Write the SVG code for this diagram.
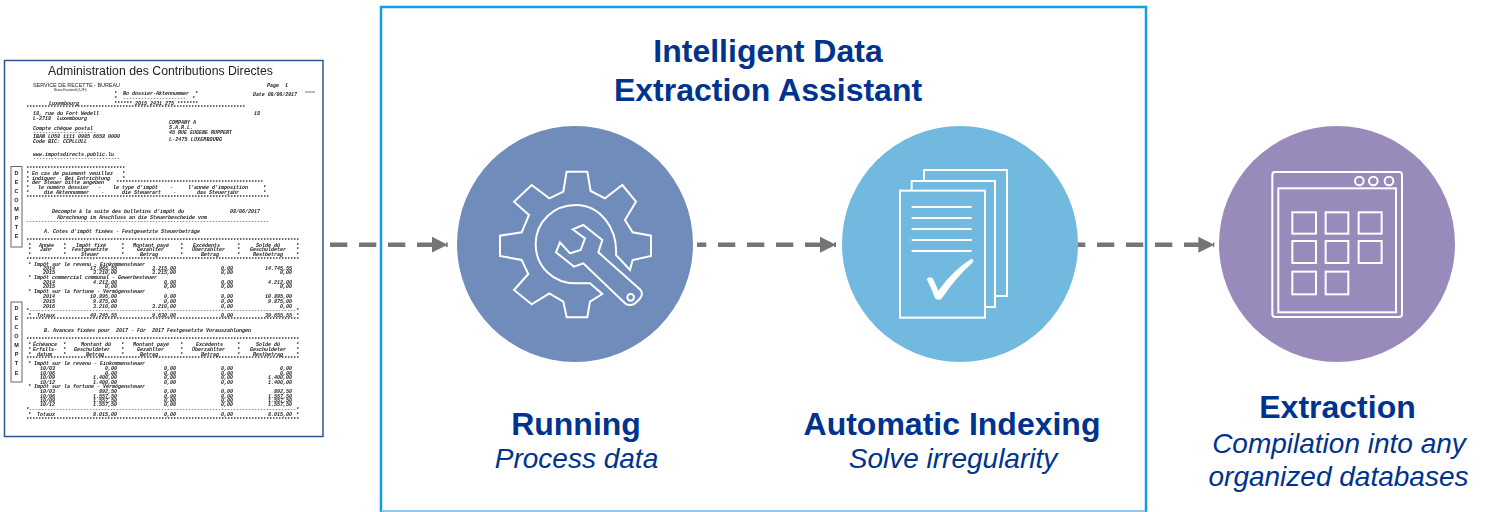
<svg xmlns="http://www.w3.org/2000/svg" width="1486" height="512" viewBox="0 0 1486 512">
<style>
.h{font-family:"Liberation Sans",Arial,sans-serif;font-weight:700;fill:#00338d;text-anchor:middle;font-size:32px}
.i{font-family:"Liberation Sans",Arial,sans-serif;font-style:italic;fill:#00338d;text-anchor:middle;font-size:28px}
.ic{fill:none;stroke:#fff;stroke-width:6;stroke-linejoin:miter}
.d text{font-family:"Liberation Mono",monospace;font-size:5px;font-weight:700;font-style:italic;fill:#222;white-space:pre}
.d text.s{font-family:"Liberation Sans",sans-serif;font-style:normal;font-weight:400}
.d .e{text-anchor:end}
.d text.l{font-family:"Liberation Sans",sans-serif;font-style:normal;font-weight:700;font-size:5.5px;text-anchor:middle}
.dash{fill:none;stroke:#757575;stroke-width:4.5;stroke-dasharray:17.3 11.7}
</style>
<defs>
<marker id="a" markerUnits="userSpaceOnUse" markerWidth="18" markerHeight="18" refX="16" refY="9" orient="auto"><path d="M0 1L16 9L0 17Z" fill="#757575"/></marker>
<filter id="b" x="-5%" y="-5%" width="110%" height="110%"><feGaussianBlur stdDeviation="0.3"/></filter>
</defs>
<rect width="1486" height="512" fill="#fff"/>
<g id="document">
<rect x="4.5" y="60.5" width="318.5" height="376" fill="#fff" stroke="#2f5597" stroke-width="1.5"/>
<g class="d" filter="url(#b)">
<text class="s" x="48" y="75" style="font-size:12px;fill:#222" textLength="225" lengthAdjust="spacingAndGlyphs">Administration des Contributions Directes</text>
<text class="s" x="33" y="87" style="font-size:6px" textLength="87" lengthAdjust="spacingAndGlyphs">SERVICE DE RECETTE - BUREAU</text>
<text x="267" y="87">Page  1</text>
<text class="s" x="54" y="91" style="font-size:3px">Bases-Foustendt (1-2Ft)</text>
<text x="114" y="95">*  No dossier-Aktennummer  *</text>
<text x="253" y="96" textLength="44">Date 08/06/2017</text>
<text x="114" y="100">*  ---------------------  *</text>
<text x="49" y="104.5">Luxembourg</text>
<text x="114" y="104.5">****** 2015 2431 275 *******</text>
<text x="26" y="109">*************************************************************************</text>
<text x="33" y="115">18, rue du Fort Wedell</text><text x="254" y="115">18</text>
<text x="33" y="120">L-2718  Luxembourg</text>
<text x="169" y="124">COMPANY A</text><text x="169" y="129">S.A.R.L.</text>
<text x="169" y="134" textLength="63">45 RUE EUGENE RUPPERT</text>
<text x="169" y="141" textLength="53">L-2475 LUXEMBOURG</text>
<text x="33" y="130">Compte chèque postal</text>
<text x="33" y="134">---------------------</text>
<text x="33" y="138">IBAN LU58 1111 0985 6658 0000</text>
<text x="33" y="143">Code BIC: CCPLLULL</text>
<text x="33" y="156">www.impotsdirects.public.lu</text>
<text x="33" y="160">-----------------------------</text>
<text x="26" y="170">*********************************</text>
<text x="26" y="175">* En cas de paiement veuillez   *</text>
<text x="26" y="180">* indiquer - Bei Entrichtung    *</text>
<text x="26" y="184">* der Steuer bitte angeben    *************************************************</text>
<text x="26" y="189">*   le numéro dossier   -    le type d'impôt    -     l'année d'imposition     *</text>
<text x="26" y="194">*     die Aktennummer    -      die Steuerart    -       das Steuerjahr        *</text>
<text x="26" y="199">*********************************************************************************</text>
<text x="52" y="213">Décompte à la suite des bulletins d'impôt du</text><text x="230" y="213">08/06/2017</text>
<text x="57" y="219">Abrechnung im Anschluss an die Steuerbescheide vom</text>
<text x="26" y="223">---------------------------------------------------------------------------------</text>
<text x="44" y="233">A. Cotes d'impôt fixées - Festgesetzte Steuerbeträge</text>
<text x="26" y="242">*******************************************************************************************</text>
<text y="247"><tspan x="28">*</tspan><tspan x="39">Année</tspan><tspan x="63">*</tspan><tspan x="76">Impôt fixé</tspan><tspan x="121">*</tspan><tspan x="133">Montant payé</tspan><tspan x="180">*</tspan><tspan x="193">Excédents</tspan><tspan x="237">*</tspan><tspan x="256">Solde dû</tspan><tspan x="296">*</tspan></text>
<text y="251"><tspan x="28">*</tspan><tspan x="40">Jahr</tspan><tspan x="63">*</tspan><tspan x="72">Festgesetzte</tspan><tspan x="121">*</tspan><tspan x="137">Gezahlter</tspan><tspan x="180">*</tspan><tspan x="192">Überzahlter</tspan><tspan x="237">*</tspan><tspan x="250">Geschuldeter</tspan><tspan x="296">*</tspan></text>
<text y="256"><tspan x="28">*</tspan><tspan x="63">*</tspan><tspan x="81">Steuer</tspan><tspan x="121">*</tspan><tspan x="140">Betrag</tspan><tspan x="180">*</tspan><tspan x="201">Betrag</tspan><tspan x="237">*</tspan><tspan x="253">Restbetrag</tspan><tspan x="296">*</tspan></text>
<text x="26" y="261">*******************************************************************************************</text>
<text x="28" y="266">* Impôt sur le revenu - Einkommensteuer</text>
<text y="270"><tspan x="43">2014</tspan><tspan class="e" x="117">17.965,55</tspan><tspan class="e" x="176">3.215,00</tspan><tspan class="e" x="233">0,00</tspan><tspan class="e" x="292">14.745,55</tspan></text>
<text y="274"><tspan x="43">2015</tspan><tspan class="e" x="117">3.210,00</tspan><tspan class="e" x="176">3.215,00</tspan><tspan class="e" x="233">0,00</tspan><tspan class="e" x="292">0,00</tspan></text>
<text x="28" y="279">* Impôt commercial communal - Gewerbesteuer</text>
<text y="284"><tspan x="43">2014</tspan><tspan class="e" x="117">4.212,00</tspan><tspan class="e" x="176">0,00</tspan><tspan class="e" x="233">0,00</tspan><tspan class="e" x="292">4.212,00</tspan></text>
<text y="288"><tspan x="43">2015</tspan><tspan class="e" x="117">0,00</tspan><tspan class="e" x="176">0,00</tspan><tspan class="e" x="233">0,00</tspan><tspan class="e" x="292">0,00</tspan></text>
<text x="28" y="293">* Impôt sur la fortune - Vermögensteuer</text>
<text y="298"><tspan x="43">2014</tspan><tspan class="e" x="117">10.895,00</tspan><tspan class="e" x="176">0,00</tspan><tspan class="e" x="233">0,00</tspan><tspan class="e" x="292">10.895,00</tspan></text>
<text y="303"><tspan x="43">2015</tspan><tspan class="e" x="117">9.875,00</tspan><tspan class="e" x="176">0,00</tspan><tspan class="e" x="233">0,00</tspan><tspan class="e" x="292">9.875,00</tspan></text>
<text y="308"><tspan x="43">2016</tspan><tspan class="e" x="117">3.210,00</tspan><tspan class="e" x="176">3.210,00</tspan><tspan class="e" x="233">0,00</tspan><tspan class="e" x="292">0,00</tspan></text>
<text x="26" y="312">*-----------------------------------------------------------------------------------------*</text>
<text y="317"><tspan x="28">*</tspan><tspan x="37">Totaux</tspan><tspan class="e" x="117">49.245,55</tspan><tspan class="e" x="176">9.630,00</tspan><tspan class="e" x="233">0,00</tspan><tspan class="e" x="292">39.655,55</tspan><tspan x="296">*</tspan></text>
<text x="26" y="321">*******************************************************************************************</text>
<text x="44" y="332">B. Avances fixées pour  2017 - Für  2017 Festgesetzte Vorauszahlungen</text>
<text x="26" y="341">*******************************************************************************************</text>
<text y="346"><tspan x="28">*</tspan><tspan x="33">Échéance</tspan><tspan x="63">*</tspan><tspan x="81">Montant dû</tspan><tspan x="121">*</tspan><tspan x="133">Montant payé</tspan><tspan x="180">*</tspan><tspan x="196">Excédents</tspan><tspan x="237">*</tspan><tspan x="256">Solde dû</tspan><tspan x="296">*</tspan></text>
<text y="351"><tspan x="28">*</tspan><tspan x="33">Erfalls-</tspan><tspan x="63">*</tspan><tspan x="74">Geschuldeter</tspan><tspan x="121">*</tspan><tspan x="137">Gezahlter</tspan><tspan x="180">*</tspan><tspan x="192">Überzahlter</tspan><tspan x="237">*</tspan><tspan x="250">Geschuldeter</tspan><tspan x="296">*</tspan></text>
<text y="356"><tspan x="28">*</tspan><tspan x="37">datum</tspan><tspan x="63">*</tspan><tspan x="86">Betrag</tspan><tspan x="121">*</tspan><tspan x="140">Betrag</tspan><tspan x="180">*</tspan><tspan x="201">Betrag</tspan><tspan x="237">*</tspan><tspan x="253">Restbetrag</tspan><tspan x="296">*</tspan></text>
<text x="26" y="360">*******************************************************************************************</text>
<text x="28" y="365">* Impôt sur le revenu - Einkommensteuer</text>
<text y="370"><tspan x="40">10/03</tspan><tspan class="e" x="117">0,00</tspan><tspan class="e" x="176">0,00</tspan><tspan class="e" x="233">0,00</tspan><tspan class="e" x="292">0,00</tspan></text>
<text y="375"><tspan x="40">10/06</tspan><tspan class="e" x="117">0,00</tspan><tspan class="e" x="176">0,00</tspan><tspan class="e" x="233">0,00</tspan><tspan class="e" x="292">0,00</tspan></text>
<text y="379"><tspan x="40">10/09</tspan><tspan class="e" x="117">1.400,00</tspan><tspan class="e" x="176">0,00</tspan><tspan class="e" x="233">0,00</tspan><tspan class="e" x="292">1.400,00</tspan></text>
<text y="384"><tspan x="40">10/12</tspan><tspan class="e" x="117">1.400,00</tspan><tspan class="e" x="176">0,00</tspan><tspan class="e" x="233">0,00</tspan><tspan class="e" x="292">1.400,00</tspan></text>
<text x="28" y="388">* Impôt sur la fortune - Vermögensteuer</text>
<text y="393"><tspan x="40">10/03</tspan><tspan class="e" x="117">892,50</tspan><tspan class="e" x="176">0,00</tspan><tspan class="e" x="233">0,00</tspan><tspan class="e" x="292">892,50</tspan></text>
<text y="398"><tspan x="40">10/06</tspan><tspan class="e" x="117">1.557,50</tspan><tspan class="e" x="176">0,00</tspan><tspan class="e" x="233">0,00</tspan><tspan class="e" x="292">1.557,50</tspan></text>
<text y="402"><tspan x="40">10/09</tspan><tspan class="e" x="117">1.557,50</tspan><tspan class="e" x="176">0,00</tspan><tspan class="e" x="233">0,00</tspan><tspan class="e" x="292">1.557,50</tspan></text>
<text y="406"><tspan x="40">10/12</tspan><tspan class="e" x="117">1.557,50</tspan><tspan class="e" x="176">0,00</tspan><tspan class="e" x="233">0,00</tspan><tspan class="e" x="292">1.557,50</tspan></text>
<text x="26" y="411">*-----------------------------------------------------------------------------------------*</text>
<text y="416"><tspan x="28">*</tspan><tspan x="37">Totaux</tspan><tspan class="e" x="117">8.015,00</tspan><tspan class="e" x="176">0,00</tspan><tspan class="e" x="233">0,00</tspan><tspan class="e" x="292">8.015,00</tspan><tspan x="296">*</tspan></text>
<text x="26" y="421">*******************************************************************************************</text>
<path d="M305 92H315" stroke="#777" fill="none"/>
<rect x="11" y="166.5" width="11" height="80.5" fill="#fff" stroke="#666"/>
<rect x="11" y="302" width="11" height="80" fill="#fff" stroke="#666"/>
<text class="l" x="16.5" y="175">D</text><text class="l" x="16.5" y="184">E</text><text class="l" x="16.5" y="193">C</text><text class="l" x="16.5" y="202">O</text><text class="l" x="16.5" y="211">M</text><text class="l" x="16.5" y="220">P</text><text class="l" x="16.5" y="229">T</text><text class="l" x="16.5" y="238">E</text>
<text class="l" x="16.5" y="310">D</text><text class="l" x="16.5" y="320">E</text><text class="l" x="16.5" y="329">C</text><text class="l" x="16.5" y="338">O</text><text class="l" x="16.5" y="347">M</text><text class="l" x="16.5" y="356">P</text><text class="l" x="16.5" y="365">T</text><text class="l" x="16.5" y="375">E</text>
</g>
</g>
<g id="panel">
<path d="M381 512V7H1146V512" fill="none" stroke="#129ce3" stroke-width="2.5"/>
<path d="M381 511H1146" fill="none" stroke="#6fb3e0" stroke-width="1.5"/>
<text class="h" x="768" y="62">Intelligent Data</text>
<text class="h" x="768" y="101">Extraction Assistant</text>
</g>
<g id="connectors">
<path class="dash" d="M330 244.7H447.7" marker-end="url(#a)"/>
<path class="dash" d="M697 244.7H836" stroke-dashoffset="8" marker-end="url(#a)"/>
<path class="dash" d="M1077 244.7H1214.3" stroke-dashoffset="9" marker-end="url(#a)"/>
</g>
<g id="running">
<circle cx="575" cy="244" r="118" fill="#708cba"/>
<g transform="translate(450 125) scale(.3333)" class="ic">
<path d="M350 140L412 140L422 198L465 220L517 180L558 230L525 285L548 322L603 332L603 393L548 405L540 435L498 390C503 310 450 240 378 240C310 240 257 290 257 358C257 425 310 475 378 475L420 475L457 507L420 530L412 577L350 577L340 530L298 505L245 538L192 495L235 447L215 405L150 393L150 332L215 322L237 270L192 230L245 180L298 220L340 200Z"/>
<path d="M368 313L400 300L457 345L445 382L572 495C582 510 570 522 555 535C545 542 535 542 525 535L400 415L372 425L318 382L330 352L360 385L392 375L405 340Z"/>
<circle cx="542" cy="517" r="10"/>
</g>
<text class="h" x="576" y="435">Running</text>
<text class="i" x="576.5" y="468">Process data</text>
</g>
<g id="indexing">
<circle cx="960" cy="244" r="118" fill="#72b9df"/>
<g transform="translate(835 125) scale(.3333)" class="ic">
<rect x="195" y="197" width="255" height="381"/>
<path d="M230 197V168H480V546H450"/>
<path d="M267 168V135H516V513H480"/>
<path d="M230 246H410M230 279H410M230 312H410M230 345H410M230 378H410"/>
<path d="M275 462Q283 452 293 460Q303 480 310 497Q355 435 408 402Q418 402 414 412Q365 455 322 518Q312 530 300 520Q290 490 275 462Z" fill="#fff" stroke="none"/>
</g>
<text class="h" x="952" y="435">Automatic Indexing</text>
<text class="i" x="953" y="468">Solve irregularity</text>
</g>
<g id="extraction">
<circle cx="1337" cy="244" r="118" fill="#988bbc"/>
<g transform="translate(1210 125) scale(.3333)" class="ic">
<rect x="187" y="141" width="389" height="435" rx="8"/>
<rect x="205" y="190" width="353" height="372"/>
<circle cx="448" cy="168" r="13"/><circle cx="490" cy="168" r="13"/><circle cx="537" cy="168" r="13"/>
<rect x="247" y="262" width="71" height="64"/><rect x="347" y="262" width="68" height="64"/><rect x="446" y="262" width="69" height="64"/>
<rect x="247" y="348" width="71" height="66"/><rect x="347" y="348" width="68" height="66"/><rect x="446" y="348" width="69" height="66"/>
<rect x="247" y="440" width="71" height="68"/><rect x="347" y="440" width="68" height="68"/>
</g>
<text class="h" x="1337.5" y="418">Extraction</text>
<text class="i" x="1339" y="453">Compilation into any</text>
<text class="i" x="1338.5" y="486">organized databases</text>
</g>
</svg>
